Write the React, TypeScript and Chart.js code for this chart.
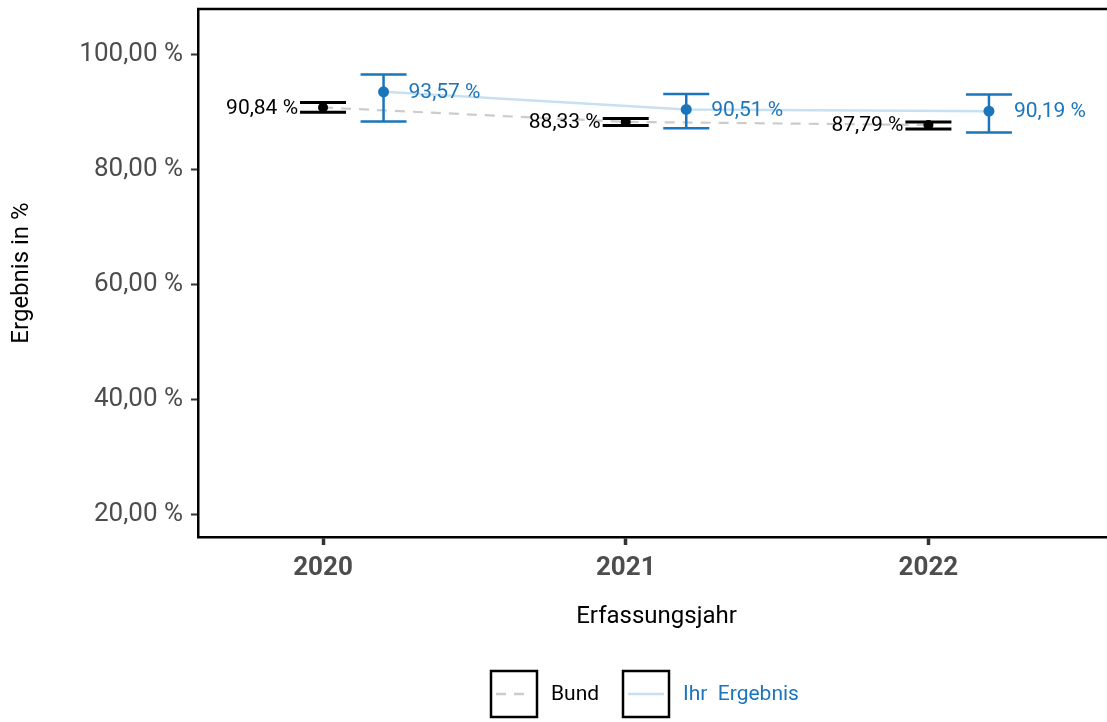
import { useEffect, useRef } from 'react';
import { Chart, registerables } from 'chart.js';

Chart.register(...registerables);

// ---- data ----
const years = [2020, 2021, 2022];
const bundValues = [90.84, 88.33, 87.79];
const bundLow = [90.0, 87.7, 87.1];
const bundHigh = [91.7, 88.9, 88.3];
const ihrValues = [93.57, 90.51, 90.19];
const ihrLow = [88.4, 87.2, 86.5];
const ihrHigh = [96.6, 93.2, 93.1];
const yTickValues = [20, 40, 60, 80, 100];
const ihrOffset = 0.2;
const bundLabel = 'Bund';
const ihrLabel = 'Ihr  Ergebnis';
const xTitle = 'Erfassungsjahr';
const yTitle = 'Ergebnis in %';

const FONT = 'Roboto';
const BLUE = '#1b75bb';
const BLUE_LIGHT = '#c8e0f1';
const GRAY_DASH = '#cccccc';

const fmt = (v: number) => v.toFixed(2).replace('.', ',') + ' %';

export default function App() {
  const ref = useRef<HTMLCanvasElement>(null);

  useEffect(() => {
    document.body.style.margin = '0';
    const canvas = ref.current!;

    const errorBars = {
      id: 'errorBars',
      beforeDatasetDraw(chart: any, args: any) {
        const ds: any = chart.data.datasets[args.index];
        if (!ds.errLow) return;
        const ctx = chart.ctx;
        const xs = chart.scales.x;
        const ys = chart.scales.y;
        ctx.save();
        ctx.strokeStyle = ds.barColor;
        ctx.lineWidth = ds.barWidth;
        ds.data.forEach((p: any, i: number) => {
          const x = xs.getPixelForValue(p.x);
          const yl = ys.getPixelForValue(ds.errLow[i]);
          const yh = ys.getPixelForValue(ds.errHigh[i]);
          const hw = ds.capWidth / 2;
          ctx.beginPath();
          ctx.moveTo(x, yl);
          ctx.lineTo(x, yh);
          ctx.moveTo(x - hw, yl);
          ctx.lineTo(x + hw, yl);
          ctx.moveTo(x - hw, yh);
          ctx.lineTo(x + hw, yh);
          ctx.stroke();
        });
        ctx.restore();
      },
    };

    const extras = {
      id: 'extras',
      afterDatasetsDraw(chart: any) {
        const ctx = chart.ctx;
        const xs = chart.scales.x;
        const ys = chart.scales.y;
        ctx.save();
        ctx.font = `21px ${FONT}`;
        ctx.textBaseline = 'middle';
        chart.data.datasets.forEach((ds: any) => {
          if (!ds.errLow) return;
          ds.data.forEach((p: any) => {
            const x = xs.getPixelForValue(p.x);
            const y = ys.getPixelForValue(p.y);
            ctx.fillStyle = ds.labelColor;
            if (ds.labelSide === 'left') {
              ctx.textAlign = 'right';
              ctx.fillText(fmt(p.y), x - ds.capWidth / 2 - 2, y + 1);
            } else {
              ctx.textAlign = 'left';
              ctx.fillText(fmt(p.y), x + ds.capWidth / 2 + 2, y + 1);
            }
          });
        });
        ctx.restore();
      },
      afterDraw(chart: any) {
        const ctx = chart.ctx;
        const a = chart.chartArea;
        ctx.save();
        // top border
        ctx.strokeStyle = '#000';
        ctx.lineWidth = 2.5;
        ctx.beginPath();
        ctx.moveTo(a.left - 1, a.top);
        ctx.lineTo(a.right, a.top);
        ctx.stroke();
        // axis titles
        ctx.fillStyle = '#000';
        ctx.font = `24px ${FONT}`;
        ctx.textAlign = 'center';
        ctx.textBaseline = 'middle';
        ctx.fillText(xTitle, (a.left + a.right) / 2 + 4, 617);
        ctx.save();
        ctx.translate(22, (a.top + a.bottom) / 2);
        ctx.rotate(-Math.PI / 2);
        ctx.fillText(yTitle, 0, 0);
        ctx.restore();
        // legend
        const drawKey = (x: number, dashed: boolean, color: string, text: string, textColor: string) => {
          const y = 671;
          const s = 46;
          ctx.strokeStyle = '#000';
          ctx.lineWidth = 2.5;
          ctx.setLineDash([]);
          ctx.strokeRect(x, y, s, s);
          ctx.strokeStyle = color;
          ctx.lineWidth = 2.5;
          ctx.setLineDash(dashed ? [10, 8] : []);
          ctx.beginPath();
          ctx.moveTo(x + 5, y + s / 2);
          ctx.lineTo(x + s - 5, y + s / 2);
          ctx.stroke();
          ctx.setLineDash([]);
          ctx.fillStyle = textColor;
          ctx.font = `21px ${FONT}`;
          ctx.textAlign = 'left';
          ctx.textBaseline = 'middle';
          ctx.fillText(text, x + s + 14, y + s / 2 + 1);
        };
        drawKey(491, true, GRAY_DASH, bundLabel, '#000');
        drawKey(623, false, BLUE_LIGHT, ihrLabel, BLUE);
        ctx.restore();
      },
    };

    const chart = new Chart(canvas, {
      type: 'scatter',
      data: {
        datasets: [
          {
            type: 'line',
            label: bundLabel,
            data: years.map((x, i) => ({ x, y: bundValues[i] })),
            borderColor: GRAY_DASH,
            borderDash: [10, 8],
            borderWidth: 2.2,
            pointRadius: 0,
            order: 1,
          } as any,
          {
            type: 'line',
            label: ihrLabel,
            data: years.map((x, i) => ({ x: x + ihrOffset, y: ihrValues[i] })),
            borderColor: BLUE_LIGHT,
            borderWidth: 2.5,
            pointRadius: 0,
            order: 1,
          } as any,
          {
            label: bundLabel,
            data: years.map((x, i) => ({ x, y: bundValues[i] })),
            pointRadius: 5,
            pointBackgroundColor: '#000',
            pointBorderColor: '#000',
            pointBorderWidth: 0,
            order: 0,
            errLow: bundLow,
            errHigh: bundHigh,
            capWidth: 46,
            barColor: '#000',
            barWidth: 3,
            labelColor: '#000',
            labelSide: 'left',
          } as any,
          {
            label: ihrLabel,
            data: years.map((x, i) => ({ x: x + ihrOffset, y: ihrValues[i] })),
            pointRadius: 5.5,
            pointBackgroundColor: BLUE,
            pointBorderColor: BLUE,
            pointBorderWidth: 0,
            order: 0,
            errLow: ihrLow,
            errHigh: ihrHigh,
            capWidth: 46,
            barColor: BLUE,
            barWidth: 2.5,
            labelColor: BLUE,
            labelSide: 'right',
          } as any,
        ],
      },
      options: {
        responsive: false,
        maintainAspectRatio: false,
        animation: false,
        devicePixelRatio: 1,
        layout: { autoPadding: false, padding: { top: 9, right: 0, left: 0, bottom: 0 } },
        plugins: { legend: { display: false }, tooltip: { enabled: false } },
        scales: {
          x: {
            type: 'linear',
            min: 2019.587,
            max: 2022.59,
            afterFit: (s: any) => {
              s.height = 185;
              s.paddingLeft = 0;
              s.paddingRight = 0;
            },
            afterBuildTicks: (s: any) => {
              s.ticks = years.map((v) => ({ value: v }));
            },
            grid: {
              drawOnChartArea: false,
              drawTicks: true,
              tickLength: 8,
              tickWidth: 3.5,
              tickColor: '#333333',
            },
            border: { display: true, color: '#000', width: 2.5 },
            ticks: {
              padding: 8,
              color: '#4d4d4d',
              font: { family: FONT, size: 26, weight: 'bold' },
              callback: (v: any) => String(v),
            },
          },
          y: {
            type: 'linear',
            min: 16,
            max: 108,
            afterFit: (s: any) => {
              s.width = 198;
              s.paddingTop = 0;
              s.paddingBottom = 0;
            },
            afterBuildTicks: (s: any) => {
              s.ticks = yTickValues.map((v) => ({ value: v }));
            },
            grid: {
              drawOnChartArea: false,
              drawTicks: true,
              tickLength: 7,
              tickWidth: 2,
              tickColor: '#333333',
            },
            border: { display: true, color: '#000', width: 2.5 },
            ticks: {
              padding: 8,
              color: '#4d4d4d',
              font: { family: FONT, size: 26 },
              callback: (v: any) => fmt(Number(v)),
            },
          },
        },
      },
      plugins: [errorBars, extras],
    } as any);

    return () => chart.destroy();
  }, []);

  return <canvas ref={ref} width={1107} height={722} style={{ display: 'block' }} />;
}
